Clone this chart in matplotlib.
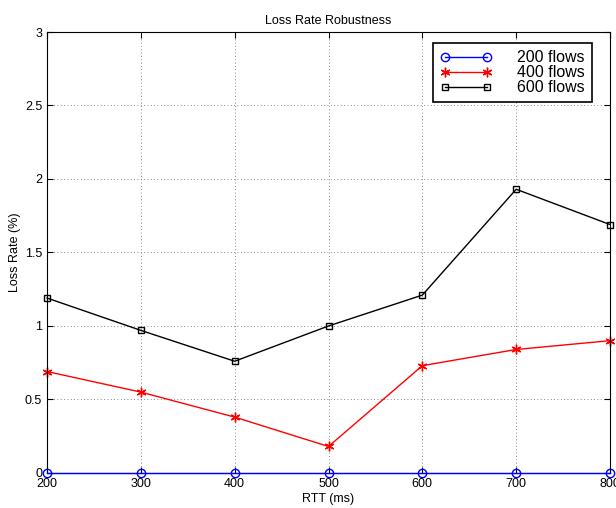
import matplotlib
matplotlib.use("Agg")
import matplotlib.pyplot as plt

plt.rcParams["font.family"] = ["Liberation Sans", "DejaVu Sans"]

# data
rtt = [200, 300, 400, 500, 600, 700, 800]
loss_200 = [0, 0, 0, 0, 0, 0, 0]
loss_400 = [0.69, 0.55, 0.38, 0.18, 0.73, 0.84, 0.90]
loss_600 = [1.19, 0.97, 0.76, 1.00, 1.21, 1.93, 1.69]

fig = plt.figure(figsize=(6.16, 5.08), dpi=100)
ax = fig.add_axes([0.0763, 0.069, 0.914, 0.868])

ax.plot(rtt, loss_200, color="blue", marker="o", markersize=6, markerfacecolor="none",
        linewidth=1, label="200 flows", clip_on=False, zorder=5)
ax.plot(rtt, loss_400, color="red", marker=(6, 2, 0), markersize=7, linewidth=1,
        label="400 flows", clip_on=False)
ax.plot(rtt, loss_600, color="black", marker="s", markersize=5, markerfacecolor="none",
        linewidth=1, label="600 flows", clip_on=False)

ax.set_xlim(200, 800)
ax.set_ylim(0, 3)
ax.set_xticks(rtt)
ax.set_yticks([0, 0.5, 1, 1.5, 2, 2.5, 3])
ax.set_yticklabels(["0", "0.5", "1", "1.5", "2", "2.5", "3"])
ax.tick_params(direction="in", labelsize=9, length=4, top=True, right=True)
ax.grid(True, linestyle=(0, (1, 3)), color="0.4", linewidth=0.6)
for s in ax.spines.values():
    s.set_linewidth(0.8)

ax.set_xlabel("RTT (ms)", fontsize=9, labelpad=2)
ax.set_ylabel("Loss Rate (%)", fontsize=9, labelpad=3)
ax.set_title("Loss Rate Robustness", fontsize=9, pad=6)

leg = ax.legend(loc="upper right", bbox_to_anchor=(0.968, 0.975), borderaxespad=0,
                fontsize=11.5, numpoints=2, fancybox=False, framealpha=1,
                edgecolor="black", handlelength=3.2, handletextpad=1.6,
                borderpad=0.45, labelspacing=0.0)
leg.get_frame().set_linewidth(1.2)

fig.savefig("out.png", dpi=100)
